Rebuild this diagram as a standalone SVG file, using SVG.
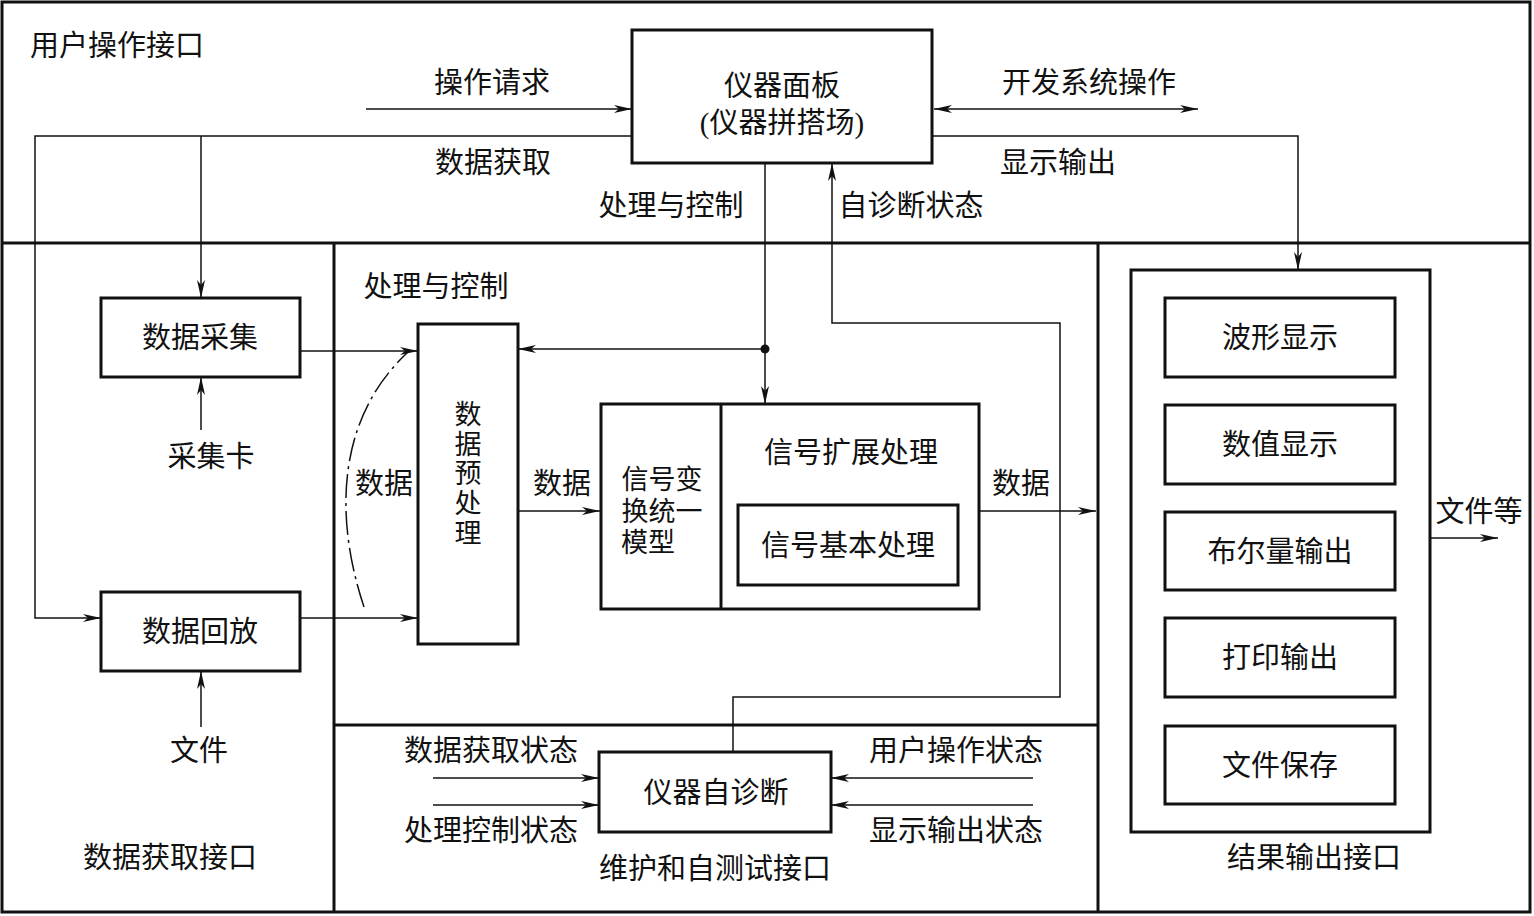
<svg xmlns="http://www.w3.org/2000/svg" width="1534" height="916" viewBox="0 0 1534 916">
<style>
text{font-family:"Liberation Serif","Noto Sans CJK SC",serif;font-size:29px;fill:#111;text-anchor:middle;dominant-baseline:central}
.v{font-size:27px}
.box{fill:#fff;stroke:#111;stroke-width:3}
.sec{fill:none;stroke:#111;stroke-width:3}
.c{fill:none;stroke:#111;stroke-width:1.5}
.ae{marker-end:url(#arr)}
</style>
<defs>
<marker id="arr" viewBox="0 0 18 8" refX="18" refY="4" markerWidth="18" markerHeight="8" markerUnits="userSpaceOnUse" orient="auto-start-reverse">
<path d="M0,0 L18,4 L0,8 L5,4 z" fill="#111"/>
</marker>
</defs>
<rect width="1534" height="916" fill="#fff"/>
<g id="sections">
<rect class="sec" x="2" y="2" width="1528" height="910"/>
<line class="sec" x1="2" y1="243" x2="1530" y2="243"/>
<line class="sec" x1="334" y1="243" x2="334" y2="912"/>
<line class="sec" x1="1098" y1="243" x2="1098" y2="912"/>
<line class="sec" x1="334" y1="725" x2="1098" y2="725"/>
<text x="117" y="46">用户操作接口</text>
<text x="170" y="858">数据获取接口</text>
<text x="715" y="869">维护和自测试接口</text>
<text x="1314" y="858">结果输出接口</text>
<text x="436" y="287">处理与控制</text>
</g>
<g id="connectors">
<path class="c ae" d="M366,109 H632"/>
<path class="c ae" d="M934,109 H1198" marker-start="url(#arr)"/>
<path class="c ae" d="M632,136 H35 V618 H101"/>
<path class="c ae" d="M201,136 V298"/>
<path class="c ae" d="M932,136 H1298 V270"/>
<path class="c ae" d="M765,163 V404"/>
<path class="c ae" d="M765,349 H518"/>
<circle cx="765" cy="349" r="4.5" fill="#111"/>
<path class="c ae" d="M733,752 V697 H1060 V323 H832 V163"/>
<path class="c ae" d="M201,430 V377"/>
<path class="c ae" d="M201,727 V671"/>
<path class="c ae" d="M300,351 H418"/>
<path class="c ae" d="M300,618 H418"/>
<path class="c" d="M364,607 C335,520 335,420 408,352" stroke-dasharray="24,5,3,5"/>
<path class="c ae" d="M518,511 H600"/>
<path class="c ae" d="M979,511 H1096"/>
<path class="c ae" d="M433,778 H599"/>
<path class="c ae" d="M433,805 H599"/>
<path class="c ae" d="M1033,778 H831"/>
<path class="c ae" d="M1033,805 H831"/>
<path class="c ae" d="M1430,538 H1498"/>
<text x="492" y="83">操作请求</text>
<text x="1089" y="83">开发系统操作</text>
<text x="493" y="163">数据获取</text>
<text x="1058" y="163">显示输出</text>
<text x="671" y="206">处理与控制</text>
<text x="911" y="206">自诊断状态</text>
<text x="211" y="457">采集卡</text>
<text x="199" y="751">文件</text>
<text x="384" y="484">数据</text>
<text x="562" y="484">数据</text>
<text x="1021" y="484">数据</text>
<text x="491" y="751">数据获取状态</text>
<text x="491" y="831">处理控制状态</text>
<text x="956" y="751">用户操作状态</text>
<text x="956" y="831">显示输出状态</text>
<text x="1479" y="512">文件等</text>
</g>
<g id="panel">
<rect class="box" x="632" y="30" width="300" height="133"/>
<text x="782" y="86">仪器面板</text>
<text x="782" y="123">(仪器拼搭场)</text>
</g>
<g id="acquire">
<rect class="box" x="101" y="298" width="199" height="79"/>
<text x="200" y="338">数据采集</text>
</g>
<g id="playback">
<rect class="box" x="101" y="592" width="199" height="79"/>
<text x="200" y="632">数据回放</text>
</g>
<g id="preprocess">
<rect class="box" x="418" y="324" width="100" height="320"/>
<text class="v" x="468" y="415">数</text>
<text class="v" x="468" y="445">据</text>
<text class="v" x="468" y="474">预</text>
<text class="v" x="468" y="504">处</text>
<text class="v" x="468" y="534">理</text>
</g>
<g id="signal">
<rect class="box" x="601" y="404" width="378" height="205"/>
<line class="sec" x1="721" y1="404" x2="721" y2="609"/>
<text class="v" x="662" y="480">信号变</text>
<text class="v" x="662" y="512">换统一</text>
<text class="v" x="648" y="543">模型</text>
<text x="851" y="453">信号扩展处理</text>
</g>
<g id="basic">
<rect class="box" x="738" y="505" width="220" height="80"/>
<text x="848" y="546">信号基本处理</text>
</g>
<g id="selfdiag">
<rect class="box" x="599" y="752" width="232" height="80"/>
<text x="716" y="793">仪器自诊断</text>
</g>
<g id="result">
<rect class="box" x="1131" y="270" width="299" height="562"/>
</g>
<g id="wave"><rect class="box" x="1165" y="298" width="230" height="79"/><text x="1280" y="338">波形显示</text></g>
<g id="numeric"><rect class="box" x="1165" y="405" width="230" height="79"/><text x="1280" y="445">数值显示</text></g>
<g id="bool"><rect class="box" x="1165" y="512" width="230" height="78"/><text x="1280" y="552">布尔量输出</text></g>
<g id="print"><rect class="box" x="1165" y="618" width="230" height="79"/><text x="1280" y="658">打印输出</text></g>
<g id="filesave"><rect class="box" x="1165" y="726" width="230" height="78"/><text x="1280" y="766">文件保存</text></g>
</svg>
